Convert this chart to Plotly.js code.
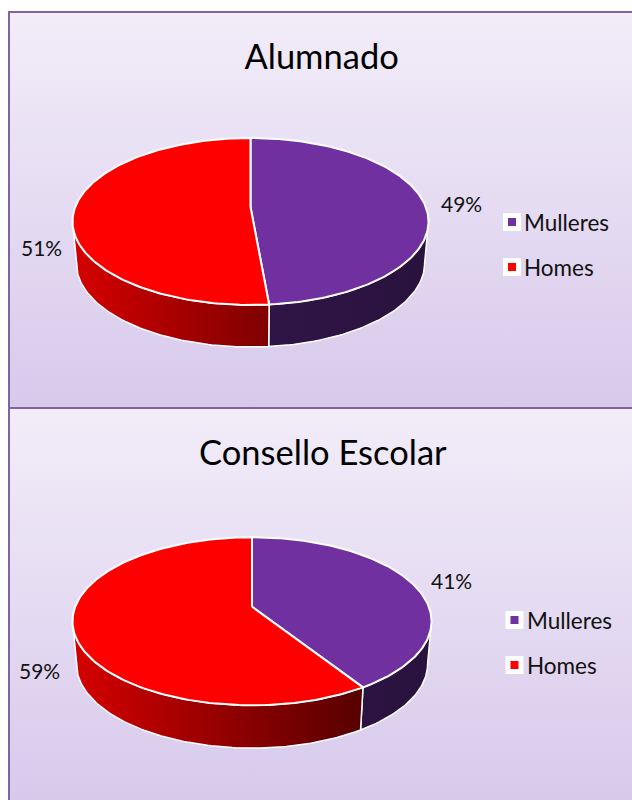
<!DOCTYPE html>
<html>
<head>
<meta charset="utf-8">
<script src="https://cdn.plot.ly/plotly-3.0.1.min.js"></script>
<style>
html,body{margin:0;padding:0;background:#fff;width:632px;height:800px;overflow:hidden}
.panel{position:absolute;left:8px;width:624px;box-sizing:border-box;
 background:linear-gradient(to bottom,#f2edf9 0%,#d8c9eb 100%);}
#c1{top:11px;height:397px;border-left:2px solid #8064a2;border-top:2px solid #8064a2;}
#c2{top:407px;height:393px;border-left:2px solid #8064a2;border-top:2px solid #8064a2;}
</style>
</head>
<body>
<div id="c1" class="panel"></div>
<div id="c2" class="panel"></div>
<script>
// ---- data ----
const categories = ["Mulleres", "Homes"];
const sliceColors = ["#7030a0", "#ff0000"];
const alumnadoValues = [48.6, 51.4];
const conselloValues = [41, 59];
const titles = ["Alumnado", "Consello Escolar"];

const FONT = "Lato, Carlito, Calibri, sans-serif";
const K = 0.1736;   // perspective of the tilted disc

function draw(id, title, values, g) {
  const total = values.reduce((a, b) => a + b, 0);
  const W = 622, H = g.bottom - g.top;
  const rimPt = deg => {
    const t = deg * Math.PI / 180, u = Math.sin(t), v = Math.cos(t), w = 1 + K * v;
    return [g.cx + g.rx * u / w, g.cy - g.a * v / w];
  };
  const lowPt = deg => {
    const p = rimPt(deg);
    return [g.cx + (p[0] - g.cx) * 0.978, p[1] + g.depth];
  };
  const arc = (from, to, fn) => {
    const pts = [], n = Math.max(2, Math.ceil(Math.abs(to - from)));
    for (let i = 0; i <= n; i++) pts.push(fn(from + (to - from) * i / n));
    return pts;
  };
  const traces = [];
  const edge = {color: "#ffffff", width: 2};
  const split = values[0] / total * 360;
  const leftA = 260, rightA = 100;

  // side walls
  const wall = (from, to, scale) => {
    const pts = arc(from, to, rimPt).concat(arc(to, from, lowPt));
    pts.push(pts[0]);
    traces.push({
      type: "scatter", mode: "lines", hoverinfo: "skip", showlegend: false,
      x: pts.map(p => p[0]), y: pts.map(p => p[1]),
      fill: "toself", line: {color: "#ffffff", width: 1.5},
      fillgradient: {type: "horizontal", colorscale: scale, start: g.cx - g.rx, stop: g.cx + g.rx}
    });
  };
  wall(rightA, Math.max(split, rightA), [[0, "#341850"], [1, "#2a123e"]]);
  wall(Math.max(split, rightA), leftA, [[0, "#d40000"], [1, "#3a0000"]]);

  // top slices
  let start = 0;
  values.forEach((v, i) => {
    const end = start + v / total * 360;
    const pts = [[g.cx, g.cy]].concat(arc(start, end, rimPt));
    pts.push([g.cx, g.cy]);
    traces.push({
      type: "scatter", mode: "lines", hoverinfo: "skip", showlegend: false, name: categories[i],
      x: pts.map(p => p[0]), y: pts.map(p => p[1]),
      fill: "toself", fillcolor: sliceColors[i], line: edge
    });
    start = end;
  });

  // legend keys: white tile with a coloured square
  const keyYs = categories.map((c, i) => g.keyY + i * 45);
  traces.push({
    type: "scatter", mode: "markers", hoverinfo: "skip", showlegend: false,
    x: categories.map(() => g.keyX), y: keyYs,
    marker: {symbol: "square", size: 18, color: "#ffffff", line: {width: 0}}
  });
  traces.push({
    type: "scatter", mode: "markers", hoverinfo: "skip", showlegend: false,
    x: categories.map(() => g.keyX), y: keyYs,
    marker: {symbol: "square", size: 8, color: sliceColors, line: {width: 0}}
  });

  const labelNotes = values.map((v, i) => ({
    x: g.labels[i][0], y: g.labels[i][1], xref: "x", yref: "y",
    text: Math.round(v) + "%", showarrow: false,
    font: {family: FONT, size: 21, color: "#111111"}
  }));
  const keyNotes = categories.map((c, i) => ({
    x: g.keyX + 12, y: keyYs[i], xref: "x", yref: "y", xanchor: "left", yanchor: "middle",
    text: c, showarrow: false, xshift: -2,
    font: {family: FONT, size: 22.5, color: "#111111"}
  }));

  const layout = {
    width: W, height: H,
    margin: {l: 0, r: 0, t: 0, b: 0},
    paper_bgcolor: "rgba(0,0,0,0)", plot_bgcolor: "rgba(0,0,0,0)",
    showlegend: false,
    title: {text: title, font: {family: FONT, size: 34.5, color: "#000000"},
            x: g.titleX, xanchor: "center", y: g.titleY, yanchor: "middle"},
    xaxis: {range: [10, 632], visible: false, fixedrange: true},
    yaxis: {range: [g.bottom, g.top], visible: false, fixedrange: true},
    annotations: labelNotes.concat(keyNotes)
  };
  Plotly.newPlot(id, traces, layout, {displayModeBar: false, staticPlot: true});
}

draw("c1", titles[0], alumnadoValues, {
  top: 13, bottom: 408, cx: 250.5, cy: 207, rx: 175.3, a: 81, depth: 42,
  keyX: 512, keyY: 222, titleX: 0.501, titleY: 0.889,
  labels: [[461, 203], [41, 247]]
});
draw("c2", titles[1], conselloValues, {
  top: 409, bottom: 800, cx: 252, cy: 606.7, rx: 176.8, a: 81.5, depth: 42.7,
  keyX: 514.5, keyY: 620, titleX: 0.503, titleY: 0.888,
  labels: [[451, 580], [39, 670]]
});
</script>
</body>
</html>
